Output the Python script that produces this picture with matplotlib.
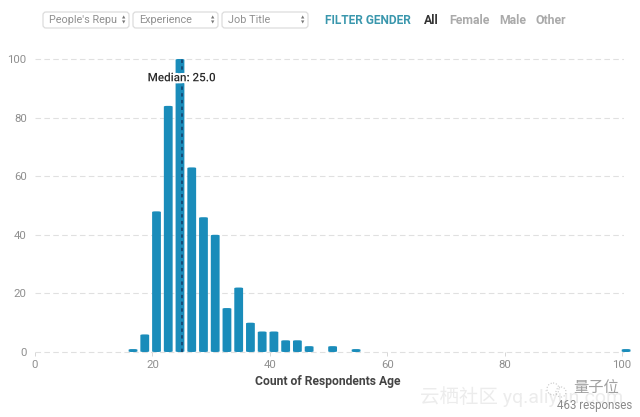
import matplotlib
matplotlib.use("Agg")
import matplotlib.pyplot as plt
from matplotlib.patches import FancyBboxPatch
import matplotlib.patheffects as pe

plt.rcParams['font.family'] = ['Roboto', 'Noto Sans CJK SC', 'DejaVu Sans']

bin_centers = [16.7, 18.7, 20.7, 22.7, 24.7, 26.7, 28.7, 30.7, 32.7, 34.7, 36.7, 38.7,
               40.7, 42.7, 44.7, 46.7, 50.7, 54.7, 100.7]
counts = [1, 6, 48, 84, 100, 63, 46, 40, 15, 22, 10, 7, 7, 4, 4, 2, 2, 1, 1]
median = 25.0
x_ticks = [0, 20, 40, 60, 80, 100]
y_ticks = [0, 20, 40, 60, 80, 100]
dropdowns = ["People's Repu", "Experience", "Job Title"]
gender_filters = ["All", "Female", "Male", "Other"]

W, H = 640, 417
BAR = '#1a8cba'
fig = plt.figure(figsize=(W / 100, H / 100), dpi=100, facecolor='white')

left, right, top, bottom = 35, 624, 40, 352
ax = fig.add_axes([left / W, 1 - bottom / H, (right - left) / W, (bottom - top) / H])
ax.set_xlim(0, (right - 35) / 5.87)
ax.set_ylim(0, (352 - 40) / 2.93)
ax.patch.set_alpha(0)
for s in ax.spines.values():
    s.set_visible(False)

ax.set_yticks(y_ticks)
ax.set_xticks(x_ticks)
ax.tick_params(axis='y', length=0, labelsize=8.2, labelcolor='#8f8f8f', pad=6)
ax.tick_params(axis='x', length=3, width=0.6, color='#d0d0d0', labelsize=8.2,
               labelcolor='#8f8f8f', pad=3)
ax.grid(axis='y', color='#e0e0e0', linestyle=(0, (5, 3)), linewidth=0.8, zorder=0)
ax.set_axisbelow(True)
ax.get_ygridlines()[0].set_clip_on(False)

bar_w = 1.5
aspect = 5.87 / 2.93
for c, h in zip(bin_centers, counts):
    r = min(0.5, h * aspect / 2.2)
    ax.add_patch(FancyBboxPatch((c - bar_w / 2, 0), bar_w, h,
                                boxstyle=f"round,pad=0,rounding_size={r}",
                                mutation_aspect=1 / aspect,
                                facecolor=BAR, edgecolor='none', zorder=3, clip_on=False))

ax.plot([median, median], [0, 100], color='#123a66', linestyle=(0, (2.2, 2.2)),
        linewidth=1.1, zorder=4)
ax.text(median, 93.6, f"Median: {median:.1f}", ha='center', va='center', fontsize=8.4,
        fontweight='medium', color='#2b2b2b', zorder=5,
        path_effects=[pe.withStroke(linewidth=3, foreground='white')])
ax.set_xlabel("Count of Respondents Age", fontsize=8.7, fontweight='bold', color='#444444')
ax.xaxis.set_label_coords((328 - left) / (right - left), -(381 - 352) / (bottom - top))
ax.xaxis.label.set_va('center')

# header controls drawn in pixel positions over the whole figure
ui = fig.add_axes([0, 0, 1, 1], facecolor='none')
ui.set_xlim(0, W)
ui.set_ylim(H, 0)
ui.axis('off')
ui.set_zorder(10)

boxes = [(43, 129), (133, 218), (222, 308)]
for (x0, x1), label in zip(boxes, dropdowns):
    ui.add_patch(FancyBboxPatch((x0, 12), x1 - x0, 16,
                                boxstyle="round,pad=0,rounding_size=3",
                                facecolor='white', edgecolor='#dcdcdc', linewidth=0.9))
    ui.text(x0 + 6, 20, label, fontsize=7.8, color='#909090', ha='left', va='center')
    ui.text(x1 - 5, 17.8, "▲", fontsize=3.2, color='#777777', ha='center', va='center',
            family='DejaVu Sans')
    ui.text(x1 - 5, 22.6, "▼", fontsize=3.2, color='#777777', ha='center', va='center',
            family='DejaVu Sans')

ui.text(325, 20.5, "FILTER GENDER", fontsize=8.6, fontweight='bold', color='#3a97ad',
        ha='left', va='center')
gender_x = [424, 449.5, 499.5, 535.5]
gender_col = ['#333333', '#aaaaaa', '#aaaaaa', '#aaaaaa']
for gx, g, col in zip(gender_x, gender_filters, gender_col):
    ui.text(gx, 20.5, g, fontsize=8.8, fontweight='bold', color=col, ha='left', va='center')

ui.text(632, 405, "463 responses", fontsize=8.3, color='#8a8a8a', ha='right', va='center')

# faint watermark
ui.text(420, 397, "云栖社区 yq.aliyun.com", fontsize=14, color='#ececec', ha='left',
        va='center', zorder=0)
ui.text(573, 388, "量子位", fontsize=11, color='#a0a0a0', ha='left', va='center')
ui.add_patch(plt.Circle((553, 389), 6, facecolor='none', edgecolor='#c8c8c8',
                        linewidth=0.8, linestyle=':'))
ui.add_patch(plt.Circle((561, 392), 5, facecolor='none', edgecolor='#c8c8c8',
                        linewidth=0.8, linestyle=':'))

fig.savefig("out.png", dpi=100, facecolor='white')
